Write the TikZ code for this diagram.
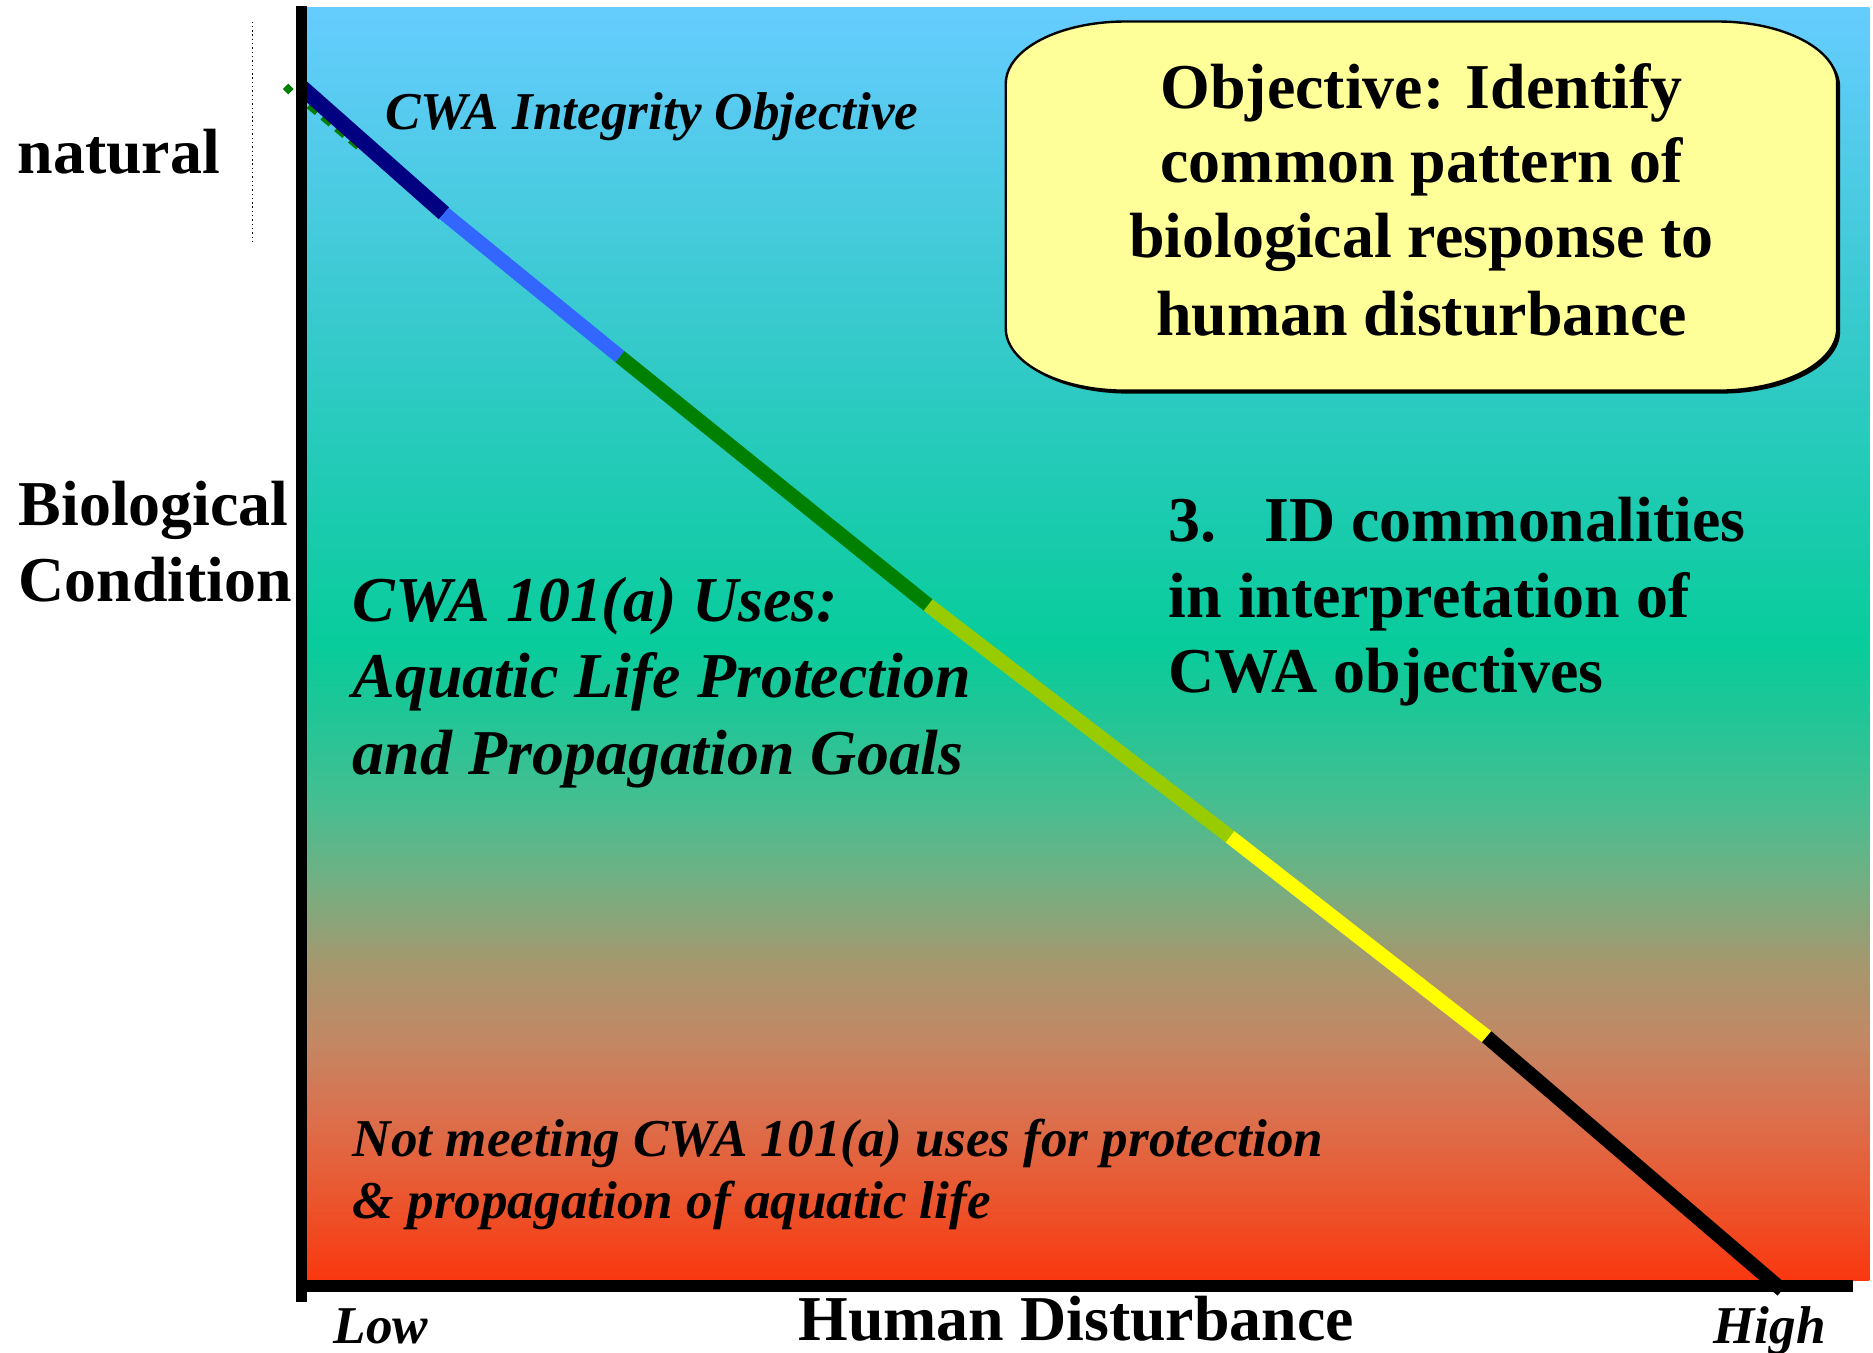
\documentclass[tikz,border=0pt]{standalone}
\usepackage{fontspec}
\setmainfont{Liberation Serif}
\definecolor{boxc}{HTML}{FFFF99}
\definecolor{navyc}{HTML}{000080}
\definecolor{bluec}{HTML}{3366FF}
\definecolor{grnc}{HTML}{008000}
\definecolor{ygc}{HTML}{99CC00}
\definecolor{yelc}{HTML}{FFFF00}
% stops of the background grade, bottom to top
\definecolor{bg0}{RGB}{250,55,15}
\definecolor{bg1}{RGB}{235,85,45}
\definecolor{bg2}{RGB}{220,110,75}
\definecolor{bg3}{RGB}{195,135,100}
\definecolor{bg4}{RGB}{165,152,110}
\definecolor{bg5}{RGB}{115,175,130}
\definecolor{bg6}{RGB}{70,190,145}
\definecolor{bg7}{RGB}{35,197,150}
\definecolor{bg8}{RGB}{8,204,155}
\definecolor{bg9}{RGB}{55,202,205}
\definecolor{bg10}{RGB}{102,204,255}
\pgfdeclareverticalshading{plotgrade}{100bp}{%
  color(0bp)=(bg0); color(25bp)=(bg0); color(28.125bp)=(bg1);
  color(31.25bp)=(bg2); color(34.375bp)=(bg3); color(37.5bp)=(bg4);
  color(40.625bp)=(bg5); color(43.75bp)=(bg6); color(46.875bp)=(bg7);
  color(50bp)=(bg8); color(62.5bp)=(bg9); color(75bp)=(bg10); color(100bp)=(bg10)}
\begin{document}
\begin{tikzpicture}[x=0.5pt,y=-0.5pt,
  big/.style={font=\fontsize{26.75}{32}\selectfont\bfseries, inner sep=0pt, anchor=base west},
  bigc/.style={font=\fontsize{26.75}{32}\selectfont\bfseries, inner sep=0pt, anchor=base},
  bigit/.style={font=\fontsize{26.75}{32}\selectfont\bfseries\itshape, inner sep=0pt, anchor=base west},
  smallit/.style={font=\fontsize{22.25}{26}\selectfont\bfseries\itshape, inner sep=0pt, anchor=base west},
  seg/.style={line width=6pt, line cap=butt},
  axisline/.style={line width=4.9pt, black, line cap=butt},
]
\useasboundingbox (0,0) rectangle (1568,1132);
\fill[white] (0,0) rectangle (1568,1132);

% graded background of the plot area: sky blue, sea green, red-orange
\shade[shading=plotgrade] (257,6) rectangle (1565,1072);

% dotted marker beside "natural"
\draw[black, line width=0.6pt, dash pattern=on 0.6pt off 1.2pt] (211.5,18) -- (211.5,205);

% response curve, coloured by condition class
\coordinate (p0) at (253,73.5);
\coordinate (p1) at (371.7,178.6);
\coordinate (p2) at (519,298.6);
\coordinate (p3) at (777,506.5);
\coordinate (p4) at (1029.7,700.5);
\coordinate (p5) at (1244.6,867.9);
\coordinate (p6) at (1492,1080);

% green dashed trace with diamond marker at the natural end
\fill[grnc] (241.4,70) -- (245.9,74.5) -- (241.4,79) -- (236.9,74.5) -- cycle;
\draw[grnc, line width=2pt, dash pattern=on 4.5pt off 3pt] (258,89) -- (300,124);

\draw[seg, navyc, line width=6.6pt] (p0) -- (p1);
\draw[seg, bluec] (p1) -- (p2);
\draw[seg, grnc] (p2) -- (p3);
\draw[seg, ygc] (p3) -- (p4);
\draw[seg, yelc] (p4) -- (p5);
\draw[seg, black] (p5) -- (p6);

% axes
\coordinate (ytop) at (252.5,5);
\coordinate (ybot) at (252.5,1090);
\coordinate (xl) at (248,1076.5);
\coordinate (xr) at (1551,1076.5);
\draw[axisline] (ytop) -- (ybot);
\draw[axisline, line width=5pt] (xl) -- (xr);

% objective call-out box with elliptical corners
\def\boxpath{(842,70) .. controls (842,41.3) and (886.8,18) .. (942,18)
  -- (1438,18) .. controls (1493.2,18) and (1538,41.3) .. (1538,70)
  -- (1538,275) .. controls (1538,303.7) and (1493.2,327) .. (1438,327)
  -- (942,327) .. controls (886.8,327) and (842,303.7) .. (842,275) -- cycle}
\fill[black, shift={(2.5,2.5)}] \boxpath;
\filldraw[fill=boxc, draw=black, line width=1pt] \boxpath;
\node[bigc] (obj1) at (1190,90.7) {Objective: Identify};
\node[bigc] (obj2) at (1190,152.5) {common pattern of};
\node[bigc] (obj3) at (1190,215.5) {biological response to};
\node[bigc] (obj4) at (1190,280.5) {human disturbance};

% axis labels
\node[big] (nat) at (14.4,145) {natural};
\node[big] (bio) at (15.3,439.5) {Biological};
\node[big] (cond) at (15.3,503.7) {Condition};
\node[big] (hd) at (668,1122) {Human Disturbance};
\node[smallit] (low) at (279,1125) {Low};
\node[smallit] (high) at (1434,1125) {High};

% annotations in the plot
\node[smallit] (cwaint) at (322,108.8) {CWA Integrity Objective};
\node[big] (id1) at (978,453) {\makebox[40pt][l]{3.}ID commonalities};
\node[big] (id2) at (978,517) {in interpretation of};
\node[big] (id3) at (978,580) {CWA objectives};
\node[bigit] (use1) at (295,520) {CWA 101(a) Uses:};
\node[bigit] (use2) at (295,584) {Aquatic Life Protection};
\node[bigit] (use3) at (295,648) {and Propagation Goals};
\node[smallit] (not1) at (295,968) {Not meeting CWA 101(a) uses for protection};
\node[smallit] (not2) at (295,1020) {\& propagation of aquatic life};
\end{tikzpicture}
\end{document}
